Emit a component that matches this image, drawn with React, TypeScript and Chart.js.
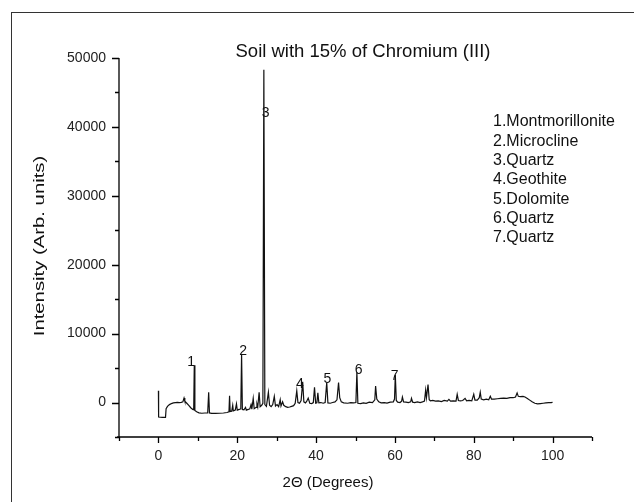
import React, { useEffect, useRef } from "react";
import { Chart, registerables } from "chart.js";

Chart.register(...registerables);

const chartTitle = "Soil with 15% of Chromium (III)";
const xAxisTitle = "2\u0398 (Degrees)";
const yAxisTitle = "Intensity (Arb. units)";

const twoTheta = [
  0, 0.05, 1.0, 1.8, 1.95, 2.3, 2.8, 3.3, 3.8, 4.3, 4.8, 5.3, 5.8, 6.2, 6.5, 6.7, 7.2, 7.7, 8.2, 8.7,
  8.95, 9.1, 9.25, 9.7, 10.3, 11.0, 11.8, 12.5, 12.75, 12.95, 13.5, 14.5, 15.5, 16.5, 17.4, 17.9, 18.05, 18.2, 18.6, 18.85,
  19.0, 19.5, 19.8, 20.0, 20.5, 20.9, 21.1, 21.3, 21.7, 22.1, 22.3, 22.8, 23.2, 23.5, 23.7, 24.05, 24.3, 24.8, 25.0, 25.2,
  25.55, 25.8, 26.2, 26.5, 26.75, 27.0, 27.4, 27.9, 28.2, 28.6, 29.0, 29.4, 29.7, 30.1, 30.5, 30.9, 31.1, 31.5, 31.8, 32.3,
  32.8, 33.3, 33.8, 34.3, 34.7, 35.1, 35.4, 35.8, 36.2, 36.6, 36.9, 37.3, 37.6, 38.0, 38.4, 38.9, 39.3, 39.6, 39.9, 40.2,
  40.45, 40.7, 41.2, 41.8, 42.3, 42.7, 43.0, 43.6, 44.2, 44.8, 45.3, 45.7, 46.0, 46.4, 47.0, 48.0, 48.8, 49.5, 50.1, 50.35,
  50.6, 51.3, 52.0, 52.7, 53.5, 54.3, 54.9, 55.1, 55.4, 55.9, 56.5, 57.3, 58.0, 58.8, 59.6, 59.9, 60.1, 60.35, 60.7, 61.3,
  61.7, 61.9, 62.2, 62.8, 63.4, 64.0, 64.2, 64.5, 65.0, 65.7, 66.4, 67.0, 67.5, 67.8, 68.0, 68.4, 68.7, 69.0, 69.6, 70.3,
  71.0, 71.8, 72.5, 73.3, 73.7, 74.1, 74.8, 75.5, 75.8, 76.1, 76.6, 77.2, 77.8, 78.2, 78.8, 79.5, 80.0, 80.3, 80.9, 81.4,
  81.65, 81.9, 82.5, 83.2, 83.8, 84.2, 84.5, 85.2, 86.0, 86.8, 87.6, 88.4, 89.2, 90.0, 90.6, 91.0, 91.3, 91.8, 92.5, 93.0,
  93.6, 94.2, 94.8, 95.5, 96.2, 96.9, 97.6, 98.3, 99.0, 99.6, 100.0,
];

const intensity = [
  1700, -2100, -2150, -2150, -900, -550, -300, -150, -50, 0, 20, -10, 30, 100, 650, 200, -100, -400, -750, -1000,
  -1050, 5400, -1150, -1350, -1500, -1550, -1520, -1500, 1500, -1500, -1560, -1580, -1550, -1520, -1450, -1350, 1000, -1300, -1250, -400,
  -1200, -1100, -200, -1100, -1000, -900, 7000, -1000, -1050, -700, -1100, -1000, -900, -300, -950, 600, -900, -700, -200, -650,
  1500, -600, -400, -100, 48300, -300, -550, 1500, -400, -600, -300, 900, -500, -300, -600, 400, -500, 100, -400, -600,
  -700, -650, -550, -450, -100, 1700, 0, -100, 300, 3000, 100, -50, 150, 650, -100, -150, 0, 2200, -100, -50,
  1400, -50, 0, -100, 0, 2900, -50, -100, 0, 100, 400, 2900, 700, 100, -50, -100, 0, -50, 0, 4400,
  -100, -150, -50, -120, 50, 0, 400, 2400, 500, 100, -50, 0, -80, 50, 100, 500, 4000, 300, 50, 0,
  200, 800, 100, 50, 0, 100, 600, 50, 0, 100, 0, 100, 200, 1800, 700, 2600, 400, 250, 300, 200,
  250, 150, 300, 200, 450, 200, 250, 200, 1200, 300, 250, 300, 600, 250, 300, 250, 1200, 350, 350, 700,
  1500, 500, 400, 500, 400, 900, 500, 500, 550, 600, 650, 600, 700, 700, 800, 1400, 900, 850, 900, 800,
  600, 350, 100, -100, -200, -150, -100, -50, 0, 0, 20,
];

const peakLabels = ["1", "2", "3", "4", "5", "6", "7"];
const peakLabelX = [8.3, 21.5, 27.2, 35.9, 42.9, 50.8, 59.9];
const peakLabelY = [5840, 7400, 42000, 2700, 3440, 4700, 3880];

const phaseList = [
  "1.Montmorillonite",
  "2.Microcline",
  "3.Quartz",
  "4.Geothite",
  "5.Dolomite",
  "6.Quartz",
  "7.Quartz",
];

const xMajorTicks = [0, 20, 40, 60, 80, 100];
const xMinorTicks = [-10, 10, 30, 50, 70, 90, 110];
const yMajorTicks = [0, 10000, 20000, 30000, 40000, 50000];
const yMinorTicks = [-5000, 5000, 15000, 25000, 35000, 45000];

const FONT = "'Liberation Sans', Arial, sans-serif";

const decorPlugin = {
  id: "decor",
  afterDraw(chart: any) {
    const { ctx, chartArea, scales } = chart;
    const { left, right, top, bottom } = chartArea;
    const xs = scales.x;
    const ys = scales.y;
    ctx.save();
    ctx.strokeStyle = "#000";
    ctx.lineWidth = 1.3;
    ctx.beginPath();
    ctx.moveTo(left, top);
    ctx.lineTo(left, bottom);
    ctx.moveTo(xs.getPixelForValue(-10) - 2, bottom);
    ctx.lineTo(right, bottom);
    xMajorTicks.forEach((v) => {
      const p = Math.round(xs.getPixelForValue(v)) + 0.5;
      ctx.moveTo(p, bottom);
      ctx.lineTo(p, bottom + 6);
    });
    xMinorTicks.forEach((v) => {
      const p = Math.round(xs.getPixelForValue(v)) + 0.5;
      ctx.moveTo(p, bottom);
      ctx.lineTo(p, bottom + 4);
    });
    yMajorTicks.forEach((v) => {
      const p = Math.round(ys.getPixelForValue(v)) + 0.5;
      ctx.moveTo(left, p);
      ctx.lineTo(left - 7, p);
    });
    yMinorTicks.forEach((v) => {
      const p = Math.round(ys.getPixelForValue(v)) + 0.5;
      ctx.moveTo(left, p);
      ctx.lineTo(left - 4, p);
    });
    ctx.stroke();

    ctx.fillStyle = "#111";
    // chart title
    ctx.font = `18.5px ${FONT}`;
    ctx.textAlign = "center";
    ctx.textBaseline = "alphabetic";
    ctx.fillText(chartTitle, 363, 57);

    // peak labels
    ctx.font = `14px ${FONT}`;
    ctx.textBaseline = "middle";
    peakLabels.forEach((t, i) => {
      ctx.fillText(t, xs.getPixelForValue(peakLabelX[i]), ys.getPixelForValue(peakLabelY[i]));
    });

    // phase list
    ctx.font = `16px ${FONT}`;
    ctx.textAlign = "left";
    phaseList.forEach((t, i) => {
      ctx.fillText(t, 493, 122 + i * 19.3);
    });

    // x axis title
    ctx.font = `15px ${FONT}`;
    ctx.textAlign = "center";
    ctx.fillText(xAxisTitle, 328, 483);

    // y axis title (stretched along its length as in the reference)
    ctx.save();
    ctx.translate(40, 246);
    ctx.rotate(-Math.PI / 2);
    ctx.scale(1.45, 1);
    ctx.font = `14px ${FONT}`;
    ctx.textAlign = "center";
    ctx.textBaseline = "middle";
    ctx.fillText(yAxisTitle, 0, 0);
    ctx.restore();

    ctx.restore();
  },
};

export default function App() {
  const ref = useRef<HTMLCanvasElement>(null);

  useEffect(() => {
    if (!ref.current) return;
    const points = twoTheta.map((x, i) => ({ x, y: intensity[i] }));
    const chart = new Chart(ref.current, {
      type: "line",
      data: {
        datasets: [
          {
            data: points,
            borderColor: "#111",
            borderWidth: 1.2,
            pointRadius: 0,
            tension: 0,
            fill: false,
          },
        ],
      },
      options: {
        animation: false,
        responsive: false,
        devicePixelRatio: 1,
        layout: { padding: { top: 58, right: 42, left: 0, bottom: 0 } },
        plugins: { legend: { display: false }, tooltip: { enabled: false }, title: { display: false } },
        scales: {
          x: {
            type: "linear",
            min: -10,
            max: 110,
            grid: { display: false, drawTicks: false, tickLength: 0 },
            border: { display: false },
            ticks: {
              stepSize: 10,
              autoSkip: false,
              maxRotation: 0,
              padding: 11,
              color: "#222",
              font: { family: FONT, size: 14 },
              callback: (v: any) => (Number(v) % 20 === 0 && Number(v) >= 0 && Number(v) <= 100 ? String(v) : ""),
            },
            afterFit: (s: any) => {
              s.height = 65;
            },
          },
          y: {
            type: "linear",
            min: -5000,
            max: 50000,
            grid: { display: false, drawTicks: false, tickLength: 0 },
            border: { display: false },
            ticks: {
              stepSize: 5000,
              autoSkip: false,
              padding: 13,
              color: "#222",
              font: { family: FONT, size: 14 },
              callback: (v: any) => (Number(v) % 10000 === 0 && Number(v) >= 0 ? String(v) : ""),
            },
            afterFit: (s: any) => {
              s.width = 119;
            },
          },
        },
      },
      plugins: [decorPlugin],
    });
    return () => chart.destroy();
  }, []);

  return (
    <div style={{ position: "fixed", left: 0, top: 0, width: 634, height: 502, background: "#fff", overflow: "hidden" }}>
      <div
        style={{
          position: "absolute",
          left: 11,
          top: 12,
          width: 623,
          height: 490,
          borderLeft: "1px solid #333",
          borderTop: "1px solid #333",
          boxSizing: "border-box",
        }}
      />
      <canvas ref={ref} width={634} height={502} style={{ position: "absolute", left: 0, top: 0 }} />
    </div>
  );
}
